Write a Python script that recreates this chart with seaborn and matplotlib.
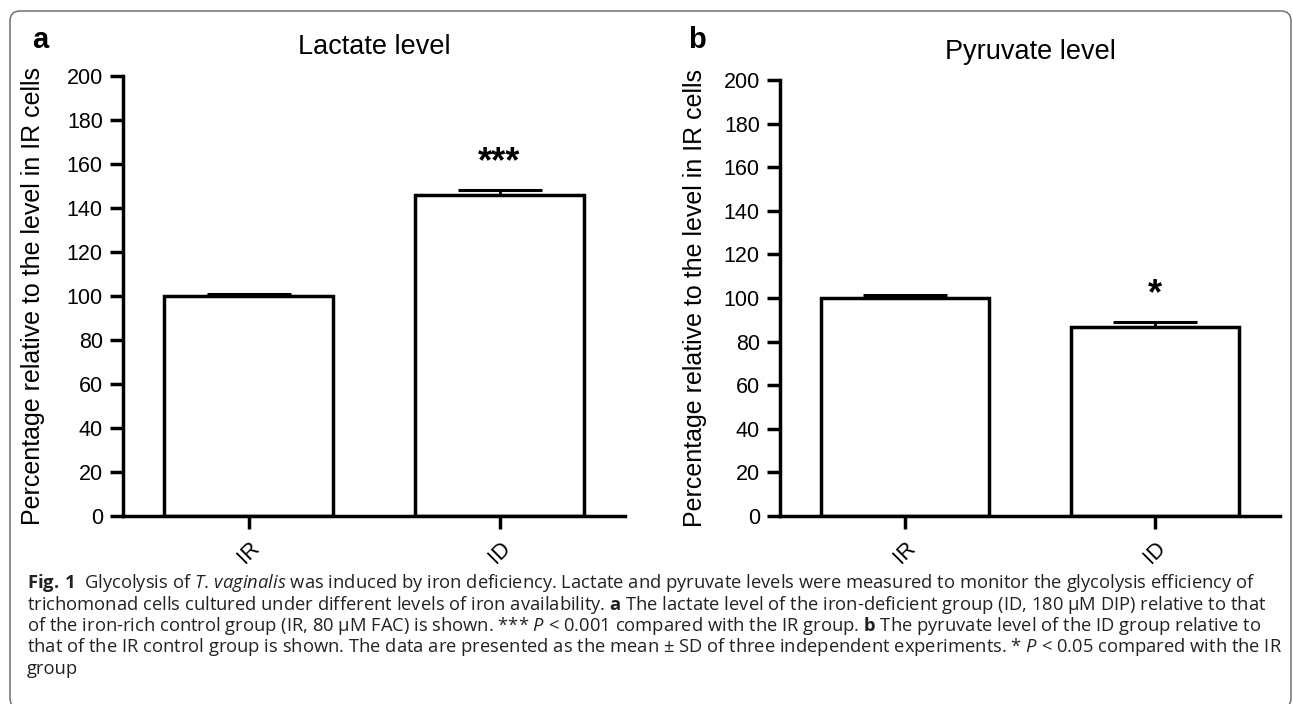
import numpy as np
import pandas as pd
import matplotlib
matplotlib.use('Agg')
import matplotlib.pyplot as plt
import seaborn as sns
from matplotlib.patches import FancyBboxPatch
from matplotlib.transforms import IdentityTransform

# data (mean and upper SD, % of IR)
groups = ['IR', 'ID']
lactate = [100, 146]
lactate_sd = [1.0, 2.0]
lactate_stars = ['', '***']
pyruvate = [100, 86.5]
pyruvate_sd = [1.5, 2.5]
pyruvate_stars = ['', '*']
yticks = list(range(0, 201, 20))

ylabel = 'Percentage relative to the level in IR cells'
caption = [
    r"$\mathbf{Fig.\,1}$  Glycolysis of $\mathit{T.\,vaginalis}$ was induced by iron deficiency. Lactate and pyruvate levels were measured to monitor the glycolysis efficiency of",
    r"trichomonad cells cultured under different levels of iron availability. $\mathbf{a}$ The lactate level of the iron-deficient group (ID, 180 µM DIP) relative to that",
    r"of the iron-rich control group (IR, 80 µM FAC) is shown. *** $\mathit{P}$ < 0.001 compared with the IR group. $\mathbf{b}$ The pyruvate level of the ID group relative to",
    r"that of the IR control group is shown. The data are presented as the mean ± SD of three independent experiments. * $\mathit{P}$ < 0.05 compared with the IR",
    "group",
]

sns.set_theme(style='ticks', rc={'axes.edgecolor': 'black', 'text.color': 'black',
                                 'axes.labelcolor': 'black', 'xtick.color': 'black',
                                 'ytick.color': 'black'})
plt.rcParams['font.family'] = ['Liberation Sans', 'DejaVu Sans']
plt.rcParams['mathtext.fontset'] = 'custom'
plt.rcParams['mathtext.rm'] = 'Open Sans'
plt.rcParams['mathtext.it'] = 'Open Sans:italic'
plt.rcParams['mathtext.bf'] = 'Open Sans:bold'

W, H = 1293, 704
fig = plt.figure(figsize=(W / 100, H / 100), dpi=100)


def box(x0, y0, x1, y1):
    # pixel box measured from top-left -> figure fraction
    return [x0 / W, 1 - y1 / H, (x1 - x0) / W, (y1 - y0) / H]


ax_a = fig.add_axes(box(123, 76, 625, 516))
ax_b = fig.add_axes(box(780, 80, 1280, 516))

panels = [
    (ax_a, lactate, lactate_sd, lactate_stars, 'Lactate level', 'a', -0.155, 54),
    (ax_b, pyruvate, pyruvate_sd, pyruvate_stars, 'Pyruvate level', 'b', -0.146, 59),
]

for ax, vals, sds, stars, title, letter, labx, title_y in panels:
    df = pd.DataFrame({'group': groups, 'value': vals})
    sns.barplot(data=df, x='group', y='value', ax=ax, color='white', saturation=1,
                edgecolor='black', linewidth=2.5, width=0.67, errorbar=None, zorder=2)
    ax.errorbar([0, 1], vals, yerr=[[0, 0], sds], fmt='none', ecolor='black',
                elinewidth=2, capsize=30, capthick=2.2, zorder=1)
    for i, s in enumerate(stars):
        if s:
            ax.text(i, vals[i] + sds[i] + 12.5, s, ha='center', va='center',
                    fontsize=26, fontweight='bold')
    ax.set_xlim(-0.5, 1.5)
    ax.set_ylim(0, 200)
    ax.set_yticks(yticks)
    ax.set_xticks([0, 1])
    ax.set_xticklabels(groups, rotation=45, ha='right', rotation_mode='anchor')
    ax.set_xlabel('')
    ax.set_ylabel(ylabel, fontsize=18)
    ax.yaxis.set_label_coords(labx, 0.5)
    sns.despine(ax=ax)
    for sp in ['left', 'bottom']:
        ax.spines[sp].set_linewidth(2.5)
    ax.tick_params(axis='both', width=2.5, length=9.5, labelsize=15.5, pad=5)
    ax.tick_params(axis='x', pad=6)
    ax.set_facecolor('white')
    pos = ax.get_position()
    fig.text((pos.x0 + pos.x1) / 2, 1 - title_y / H, title, ha='center',
             va='baseline', fontsize=19.5)
    fig.text((pos.x0 - 0.064), 1 - 48 / H, letter, ha='center', va='baseline',
             fontsize=21, fontweight='bold')

# caption, sized so the first line spans the same width as the original
renderer = fig.canvas.get_renderer()
probe = fig.text(0, 0, caption[0], fontsize=12, family='Open Sans')
w = probe.get_window_extent(renderer).width
probe.remove()
cap_fs = 12 * 1223 / w
for k, line in enumerate(caption):
    fig.text(27 / W, 1 - (588 + 21.5 * k) / H, line, fontsize=cap_fs,
             family='Open Sans', ha='left', va='baseline', color='#222222')

frame = FancyBboxPatch((10, -4), 1281, 697, boxstyle='round,pad=0,rounding_size=10',
                       transform=IdentityTransform(), facecolor='none',
                       edgecolor='#707070', linewidth=1.1)
fig.patches.append(frame)

fig.savefig('out.png', dpi=100, facecolor='white')
